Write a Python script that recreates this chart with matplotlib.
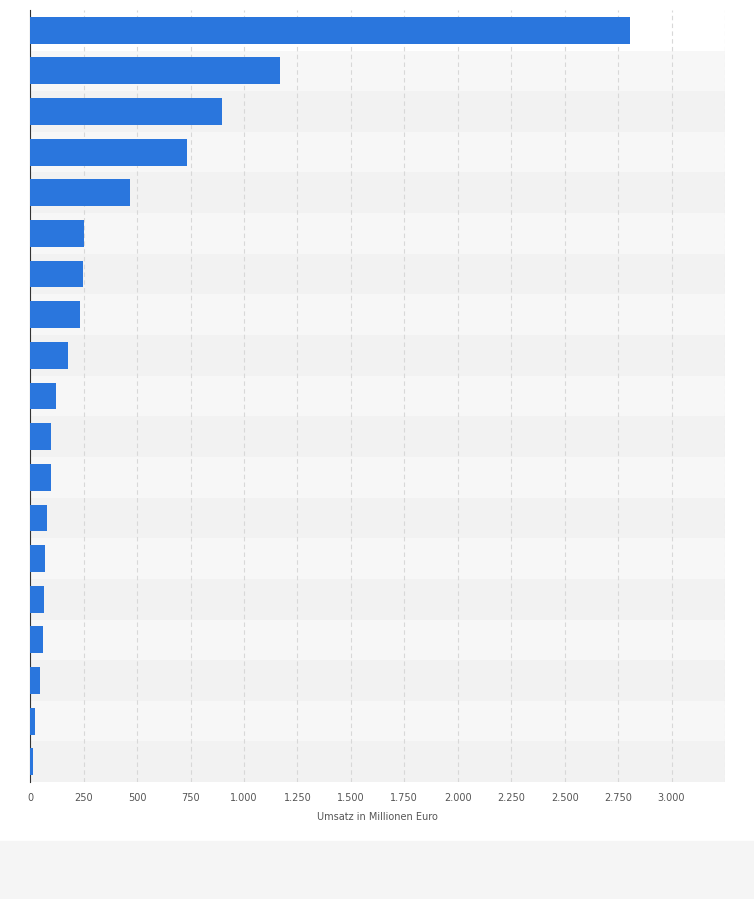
import numpy as np
import matplotlib
matplotlib.use('Agg')
from matplotlib import pyplot as plt

# revenue in million euro, top to bottom
values = [2808, 1168, 897, 734, 467, 252, 248, 234, 178, 121,
          98, 98, 79, 70, 65, 61, 47, 23, 14]
ticks = [0, 250, 500, 750, 1000, 1250, 1500, 1750, 2000, 2250, 2500, 2750, 3000]
tick_labels = ['0', '250', '500', '750', '1.000', '1.250', '1.500', '1.750',
               '2.000', '2.250', '2.500', '2.750', '3.000']

fig = plt.figure(figsize=(7.54, 8.99), dpi=100)
fig.patch.set_facecolor('white')
ax = fig.add_axes([0.040, 0.130, 0.9215, 0.859])

n = len(values)
y = np.arange(n)
# alternating row bands
for i in range(n):
    if i == 0:
        continue
    c = '#f7f7f7' if i % 2 == 1 else '#f2f2f2'
    ax.axhspan(i - 0.5, i + 0.5, color=c, zorder=0, lw=0)

ax.barh(y, values, height=0.66, color='#2a76dd', zorder=3)
ax.set_ylim(n - 0.5, -0.5)
ax.set_xlim(0, 3250)
ax.set_xticks(ticks)
ax.set_xticklabels(tick_labels, fontsize=7, color='#555555')
ax.set_yticks([])
ax.xaxis.grid(True, ls=(0, (4, 3)), color='#d8d8d8', lw=0.8, zorder=1)
ax.axvline(3250, ls=(0, (4, 3)), color='#d8d8d8', lw=0.8, zorder=1)
ax.tick_params(axis='x', length=0, pad=8)
for s in ['top', 'right', 'bottom']:
    ax.spines[s].set_visible(False)
ax.spines['left'].set_color('#333333')
ax.spines['left'].set_linewidth(0.8)
ax.set_facecolor('white')
ax.set_xlabel('Umsatz in Millionen Euro', fontsize=7, color='#555555', labelpad=6)

# light footer band
fig.patches.append(plt.Rectangle((0, 0), 1, 0.065, transform=fig.transFigure,
                                 color='#f5f5f5', zorder=0))

fig.savefig('out.png', dpi=100)
